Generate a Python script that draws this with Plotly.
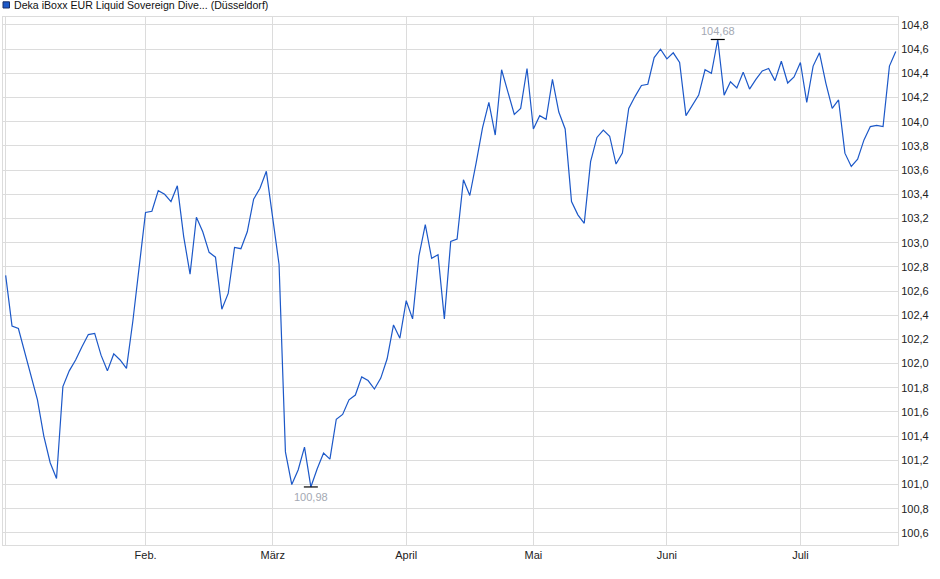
import pandas as pd
import plotly.graph_objects as go

# trading days at Börse Düsseldorf (weekdays without exchange holidays)
holidays = ["2025-01-01", "2025-04-18", "2025-04-21", "2025-05-01"]
dates = pd.bdate_range("2025-01-02", "2025-07-22", freq="C",
                       holidays=holidays).strftime("%Y-%m-%d").tolist()

prices = [
    102.73, 102.31, 102.29, 102.09, 101.91, 101.70, 101.40, 101.18, 101.05, 101.81,
    101.94, 102.03, 102.14, 102.24, 102.25, 102.07, 101.94, 102.08, 102.03, 101.96,
    102.35, 102.78, 103.25, 103.26, 103.43, 103.40, 103.34, 103.47, 103.05, 102.74,
    103.21, 103.09, 102.92, 102.88, 102.45, 102.58, 102.96, 102.95, 103.09, 103.36,
    103.45, 103.59, 103.22, 102.82, 101.27, 101.00, 101.12, 101.31, 100.98, 101.13,
    101.26, 101.21, 101.54, 101.58, 101.70, 101.74, 101.89, 101.86, 101.79, 101.88,
    102.04, 102.32, 102.21, 102.52, 102.37, 102.89, 103.15, 102.87, 102.90, 102.37,
    103.01, 103.03, 103.52, 103.39, 103.66, 103.95, 104.16, 103.89, 104.43, 104.24,
    104.06, 104.11, 104.44, 103.94, 104.05, 104.02, 104.35, 104.08, 103.94, 103.34,
    103.23, 103.16, 103.67, 103.87, 103.93, 103.88, 103.65, 103.74, 104.11, 104.21,
    104.30, 104.31, 104.53, 104.60, 104.52, 104.57, 104.49, 104.05, 104.13, 104.22,
    104.43, 104.40, 104.68, 104.22, 104.33, 104.28, 104.41, 104.27, 104.35, 104.42,
    104.44, 104.34, 104.50, 104.32, 104.37, 104.49, 104.16, 104.46, 104.57, 104.32,
    104.11, 104.18, 103.74, 103.63, 103.69, 103.85, 103.96, 103.97, 103.96, 104.46,
    104.58,
]

month_starts = ["2025-01-02", "2025-02-03", "2025-03-03", "2025-04-01",
                "2025-05-02", "2025-06-02", "2025-07-01"]
month_labels = ["", "Feb.", "März", "April", "Mai", "Juni", "Juli"]

name = "Deka iBoxx EUR Liquid Sovereign Dive... (Düsseldorf)"
blue = "#1c58c8"
grid = "#dcdcdc"

W, H = 940, 579
ML, MR, MT, MB = 3, 42, 17, 34
PW, PH = W - ML - MR, H - MT - MB

i_lo = prices.index(min(prices))
i_hi = prices.index(max(prices))


def fmt(v):
    return f"{v:.2f}".replace(".", ",")


def px_x(x):  # pixel -> paper
    return (x - ML) / PW


def px_y(y):
    return (H - MB - y) / PH


fig = go.Figure()
fig.add_trace(go.Scatter(
    x=dates, y=prices, mode="lines", name=name,
    line=dict(color=blue, width=1.2),
    showlegend=False, hoverinfo="x+y",
))
# low / high tick marks
fig.add_trace(go.Scatter(
    x=[dates[i_lo], dates[i_hi]], y=[prices[i_lo], prices[i_hi]], mode="markers",
    marker=dict(symbol="line-ew", size=10, line=dict(color="black", width=1.2)),
    showlegend=False, hoverinfo="skip",
))
fig.add_annotation(x=dates[i_lo], y=prices[i_lo], text=fmt(prices[i_lo]),
                   showarrow=False, yanchor="top", yshift=-2,
                   font=dict(size=11, color="#a3a8b3"))
fig.add_annotation(x=dates[i_hi], y=prices[i_hi], text=fmt(prices[i_hi]),
                   showarrow=False, yanchor="bottom", yshift=0,
                   font=dict(size=11, color="#a3a8b3"))

# legend header (swatch + label) above the plot
fig.add_shape(type="rect", xref="paper", yref="paper",
              x0=px_x(3), x1=px_x(9.5), y0=px_y(8), y1=px_y(1.8),
              fillcolor=blue, line=dict(color="#1a2f66", width=1))
fig.add_annotation(xref="paper", yref="paper", x=px_x(11.5), y=px_y(5),
                   xanchor="left", yanchor="middle", showarrow=False,
                   text=name, font=dict(size=10.6, color="#111"))

fig.update_layout(
    width=W, height=H,
    margin=dict(l=ML, r=MR, t=MT, b=MB, autoexpand=False),
    paper_bgcolor="white", plot_bgcolor="white",
    font=dict(family="Liberation Sans, Arial, sans-serif", size=11, color="#222"),
    separators=",.",
    showlegend=False,
)
fig.update_xaxes(
    type="category", range=[-0.42, len(dates) - 1 + 0.35],
    tickmode="array", tickvals=month_starts, ticktext=month_labels,
    showgrid=True, gridcolor=grid, gridwidth=1,
    showline=True, linecolor=grid, mirror=True,
    ticks="", tickfont=dict(size=11, color="#222"),
)
fig.update_yaxes(
    side="right", range=[100.50, 104.866], dtick=0.2, tick0=100.6,
    tickformat=".1f", showgrid=True, gridcolor=grid, gridwidth=1,
    showline=True, linecolor=grid, mirror=True, zeroline=False,
    ticks="", tickfont=dict(size=11, color="#222"),
)

# page body has a default 8px margin; drop it so the figure sits at 0,0
fig.write_html("out.html", config={"displayModeBar": False},
               post_script="document.body.style.margin='0px';")
